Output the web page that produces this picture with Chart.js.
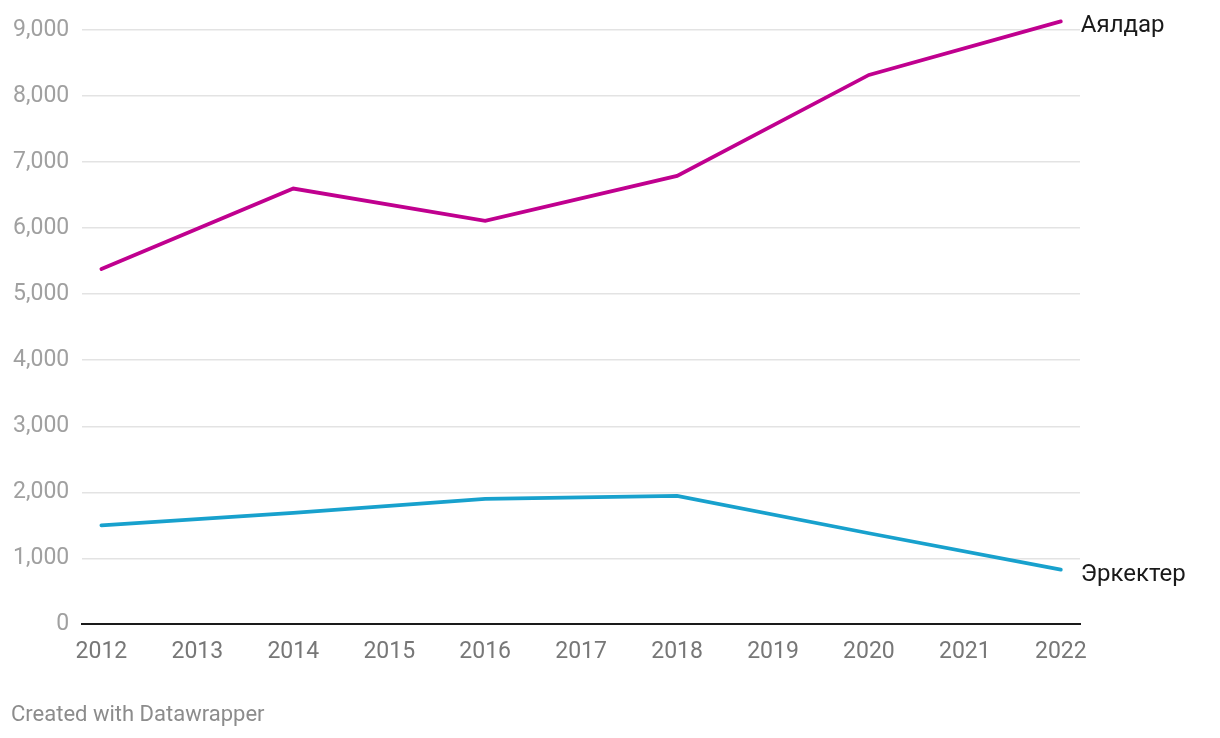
<!DOCTYPE html>
<html>
<head>
<meta charset="utf-8">
<script src="https://cdn.jsdelivr.net/npm/chart.js@4"></script>
<style>
  html, body { margin: 0; padding: 0; background: #fff; }
  .wrap { position: relative; width: 1220px; height: 738px; }
  .credit {
    position: absolute; left: 11px; top: 701px;
    font-family: Roboto, sans-serif; font-size: 22px; color: #8c8c8c;
  }
</style>
</head>
<body>
<div class="wrap">
  <canvas id="chart" width="1220" height="738"></canvas>
  <div class="credit">Created with Datawrapper</div>
</div>
<script>
// years on the x axis
const years = [2012, 2013, 2014, 2015, 2016, 2017, 2018, 2019, 2020, 2021, 2022];
// values (only every second year is plotted)
const ayaldarValues = [5380, null, 6600, null, 6110, null, 6790, null, 8320, null, 9130];
const erkekterValues = [1500, null, 1690, null, 1900, null, 1945, null, 1380, null, 830];
const yTicks = [0, 1000, 2000, 3000, 4000, 5000, 6000, 7000, 8000, 9000];
const seriesNames = ['Аялдар', 'Эркектер'];
const seriesColors = ['#c0008f', '#18a1cd'];

const toPoints = vals => years.map((y, i) => ({ x: y, y: vals[i] }));

// labels at the end of each line
const endLabels = {
  id: 'endLabels',
  afterDatasetsDraw(chart) {
    const ctx = chart.ctx;
    ctx.save();
    ctx.font = '24px Roboto, sans-serif';
    ctx.fillStyle = '#1a1a1a';
    ctx.textBaseline = 'middle';
    chart.data.datasets.forEach((ds, i) => {
      const meta = chart.getDatasetMeta(i);
      const last = meta.data[meta.data.length - 1];
      ctx.fillText(ds.label, last.x + 20, last.y + 5);
    });
    ctx.restore();
  }
};

new Chart(document.getElementById('chart'), {
  type: 'line',
  data: {
    datasets: [
      {
        label: seriesNames[0],
        data: toPoints(ayaldarValues),
        borderColor: seriesColors[0],
        borderWidth: 3.8,
        pointRadius: 0,
        spanGaps: true,
        clip: false,
        borderCapStyle: 'round'
      },
      {
        label: seriesNames[1],
        data: toPoints(erkekterValues),
        borderColor: seriesColors[1],
        borderWidth: 3.8,
        pointRadius: 0,
        spanGaps: true,
        clip: false,
        borderCapStyle: 'round'
      }
    ]
  },
  options: {
    responsive: false,
    animation: false,
    layout: { padding: { left: 0, right: 140, top: 30, bottom: 66 } },
    plugins: { legend: { display: false }, tooltip: { enabled: false } },
    scales: {
      x: {
        type: 'linear',
        min: 2011.8,
        max: 2022.2,
        afterBuildTicks: axis => { axis.ticks = years.map(v => ({ value: v })); },
        grid: { display: false },
        border: { display: true, color: '#1a1a1a', width: 2 },
        ticks: {
          color: '#777',
          font: { family: 'Roboto', size: 23 },
          padding: 6,
          maxRotation: 0,
          autoSkip: false,
          callback: v => String(v)
        }
      },
      y: {
        min: 0,
        max: 9000,
        afterBuildTicks: axis => { axis.ticks = yTicks.map(v => ({ value: v })); },
        grid: {
          color: ctx => ctx.tick && ctx.tick.value === 0 ? 'rgba(0,0,0,0)' : '#e3e3e3',
          lineWidth: 1.5,
          drawTicks: false
        },
        border: { display: false },
        ticks: {
          color: '#a0a0a0',
          font: { family: 'Roboto', size: 23 },
          padding: 13,
          callback: v => v.toLocaleString('en-US')
        }
      }
    }
  },
  plugins: [endLabels]
});
</script>
</body>
</html>
